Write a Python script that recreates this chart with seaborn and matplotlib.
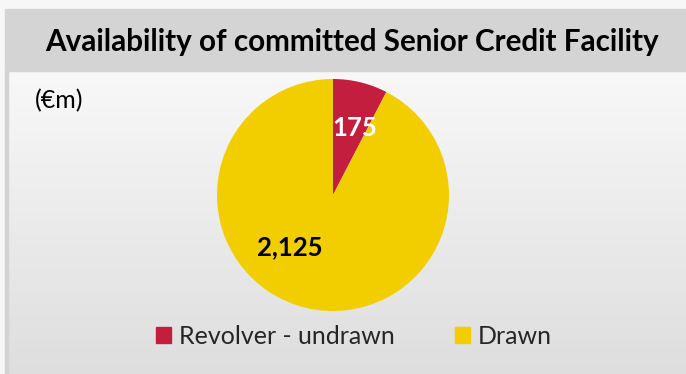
import numpy as np
import matplotlib
matplotlib.use("Agg")
import matplotlib.pyplot as plt
import seaborn as sns
from matplotlib.patches import Rectangle

# Facility split (€m)
categories = ["Revolver - undrawn", "Drawn"]
values = [175, 2125]
value_labels = ["175", "2,125"]
colors = ["#C41E3F", "#F2CD00"]
label_colors = ["white", "black"]

title = "Availability of committed Senior Credit Facility"
unit_note = "(€m)"

sns.set_theme(style="white")
plt.rcParams["font.family"] = ["Lato", "DejaVu Sans"]

W, H = 686, 374
fig = plt.figure(figsize=(W / 100, H / 100), dpi=100)
fig.patch.set_facecolor("#f7f7f7")

# background panel in pixel coordinates
bg = fig.add_axes([0, 0, 1, 1])
bg.set_xlim(0, W)
bg.set_ylim(H, 0)
bg.axis("off")
grad = np.linspace(0, 1, 256).reshape(-1, 1)
bg.imshow(grad, extent=(8, W, H, 71), aspect="auto",
          cmap=matplotlib.colors.LinearSegmentedColormap.from_list(
              "panel", ["#f8f8f8", "#dedede"]), zorder=0)
bg.add_patch(Rectangle((5, 9), W - 5, 62, color="#d4d4d4", zorder=1))
bg.add_patch(Rectangle((5, 71), 3, H - 71, color="#d3d3d3", zorder=1))
bg.text(352, 42, title, ha="center", va="center", fontsize=21.3,
        fontweight="bold", color="black", zorder=2)
bg.text(35, 101, unit_note, ha="left", va="center", fontsize=18,
        color="black", zorder=2)

# pie
cx, cy, r = 333, 195, 116
ax = fig.add_axes([(cx - r) / W, (H - cy - r) / H, 2 * r / W, 2 * r / H])
wedges, _ = ax.pie(values, colors=colors, startangle=90, counterclock=False,
                   wedgeprops=dict(linewidth=0))
ax.set_xlim(-1, 1)
ax.set_ylim(-1, 1)
ax.axis("off")

label_offsets = [(0.19, 0.58), (-0.37, -0.45)]
for (dx, dy), txt, c in zip(label_offsets, value_labels, label_colors):
    ax.text(dx, dy, txt, ha="center", va="center", fontsize=18.5,
            fontweight="bold", color=c)

# legend
handles = [Rectangle((0, 0), 1, 1, color=c) for c in colors]
fig.legend(handles, categories, loc="center", bbox_to_anchor=(354 / W, 1 - 336 / H),
           ncol=2, frameon=False, fontsize=18, handlelength=0.6,
           handleheight=0.6, handletextpad=0.32, columnspacing=2.4)

fig.savefig("out.png", dpi=100)
